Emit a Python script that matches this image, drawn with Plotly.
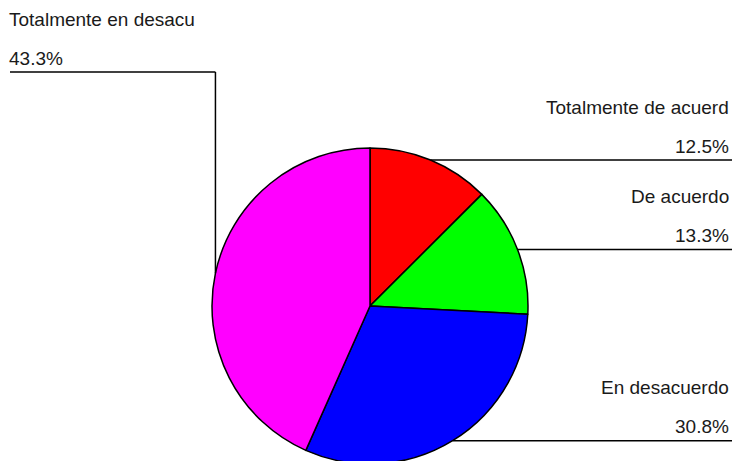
import math
import plotly.graph_objects as go

# ---- data ----
categories = ["Totalmente de acuerdo", "De acuerdo", "En desacuerdo", "Totalmente en desacuerdo"]
percents = [12.5, 13.3, 30.8, 43.3]
colors = ["#FF0000", "#00FF00", "#0000FF", "#FF00FF"]

# ---- layout constants (pixels) ----
W, H = 732, 470
CX, CY, R = 370, 306, 158
RIGHT_TEXT_X = 731
LEFT_TEXT_X = 7
LEFT_LINE_X = 10
LEFT_LINE_Y = 72
FONT = dict(family="Liberation Sans, Arial, sans-serif", size=19, color="#1a1a1a")

fig = go.Figure()
fig.add_trace(go.Pie(
    labels=categories, values=percents, sort=False, direction="clockwise", rotation=0,
    marker=dict(colors=colors, line=dict(color="black", width=1.5)),
    textinfo="none", hoverinfo="label+percent", showlegend=False,
    domain=dict(x=[(CX - R) / W, (CX + R) / W], y=[(H - CY - R) / H, (H - CY + R) / H]),
))

shapes, annotations = [], []
total = sum(percents)
cum = 0.0
for cat, p in zip(categories, percents):
    mid = (cum + p / 2) / total * 2 * math.pi
    cum += p
    ax = CX + R * math.sin(mid)
    ay = CY - R * math.cos(mid)
    label = cat[:20]
    ptxt = f"{p:.1f}%"
    if math.sin(mid) >= 0:
        shapes.append(dict(type="line", xref="x", yref="y", x0=ax, y0=ay, x1=W + 5, y1=ay,
                           line=dict(color="black", width=1.5)))
        ly = ay
        tx, anchor = RIGHT_TEXT_X, "right"
    else:
        shapes.append(dict(type="line", xref="x", yref="y", x0=ax, y0=ay, x1=ax, y1=LEFT_LINE_Y,
                           line=dict(color="black", width=1.5)))
        shapes.append(dict(type="line", xref="x", yref="y", x0=ax, y0=LEFT_LINE_Y, x1=LEFT_LINE_X, y1=LEFT_LINE_Y,
                           line=dict(color="black", width=1.5)))
        ly = LEFT_LINE_Y
        tx, anchor = LEFT_TEXT_X, "left"
    annotations.append(dict(x=tx, y=ly - 53, xref="x", yref="y", text=label, showarrow=False,
                            xanchor=anchor, yanchor="middle", font=FONT))
    annotations.append(dict(x=tx, y=ly - 14, xref="x", yref="y", text=ptxt, showarrow=False,
                            xanchor=anchor, yanchor="middle", font=FONT))

fig.update_layout(
    width=W, height=H, margin=dict(l=0, r=0, t=0, b=0),
    paper_bgcolor="white", plot_bgcolor="rgba(0,0,0,0)",
    xaxis=dict(range=[0, W], visible=False, fixedrange=True),
    yaxis=dict(range=[H, 0], visible=False, fixedrange=True),
    shapes=shapes, annotations=annotations,
)

fig.write_html("out.html", config={"displayModeBar": False},
               post_script="document.body.style.margin='0';document.body.style.overflow='hidden';")
